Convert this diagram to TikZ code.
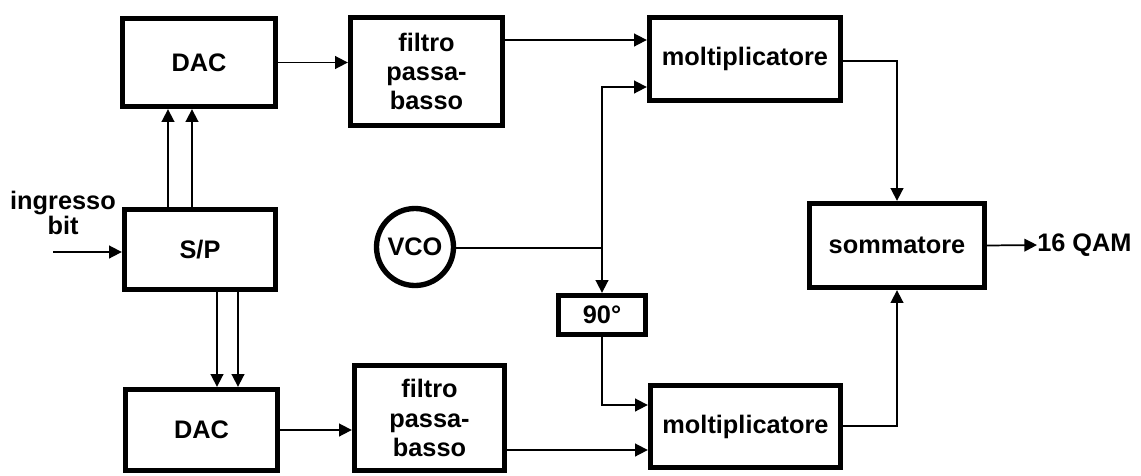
\documentclass[tikz,border=0pt]{standalone}
\usepackage{fontspec}
\setmainfont{Liberation Sans}
\usetikzlibrary{arrows.meta}

\tikzset{
  blk/.style 2 args={draw, line width=4pt, inner sep=0pt, align=center,
    minimum width=#1*0.75pt, minimum height=#2*0.75pt,
    font=\bfseries\fontsize{19}{22}\selectfont},
  lbl/.style={inner sep=0pt, align=center, font=\bfseries\fontsize{19}{17}\selectfont},
  wire/.style={line width=1.3pt},
  arr/.style={wire, -{Triangle[length=9.5pt,width=9.5pt]}},
}

\begin{document}
\begin{tikzpicture}[x=0.75pt,y=0.75pt,yscale=-1,xscale=1]
\path[use as bounding box] (0,0) rectangle (1141,475);

%Shape: Rectangle [upper branch]
\node[blk={153}{88}]  (dacA)  at (199,62.5)  {DAC};
\node[blk={152}{108}] (filtA) at (426.5,71.5) {filtro\\passa-\\basso};
\node[blk={191}{83}]  (moltA) at (745,59)     {moltiplicatore};
%Shape: Rectangle [serial/parallel]
\node[blk={151}{80}]  (sp)    at (200,249.5)  {S/P};
%Shape: Circle [oscillator]
\node[blk={77}{77}, circle, minimum size=77*0.75pt] (vco) at (415,247) {VCO};
\node[blk={87}{39}]   (ph)    at (602,315)    {90°};
%Shape: Rectangle [adder]
\node[blk={175}{84}]  (somm)  at (897,245.5)  {sommatore};
%Shape: Rectangle [lower branch]
\node[blk={152}{81}]  (dacB)  at (201.5,430)  {DAC};
\node[blk={150}{105}] (filtB) at (429.5,418)  {filtro\\passa-\\basso};
\node[blk={190}{82}]  (moltB) at (745.5,426.5) {moltiplicatore};

% Text Node
\node[lbl] (inlbl) at (63,213) {ingresso\\bit};
\node[lbl, anchor=west] (out) at (1037,245) {16 QAM};
\coordinate (in) at (53,252);
\coordinate (jv) at (602,248);

%Straight Lines
\draw[arr] (in) -- (sp.west |- in);
\foreach \x in {168,192} \draw[arr] (sp.north -| \x,0) -- (dacA.south -| \x,0);
\foreach \x in {217,238} \draw[arr] (sp.south -| \x,0) -- (dacB.north -| \x,0);
\draw[arr] (dacA.east) -- (dacA.east -| filtA.west);
\draw[arr] (dacB.east |- 0,430) -- (filtB.west |- 0,430);
\draw[arr] (filtA.east |- 0,40) -- (moltA.west |- 0,40);
\draw[arr] (filtB.east |- 0,450) -- (moltB.west |- 0,450);
\draw[wire] (vco.east |- jv) -- (jv);
\draw[arr] (jv) |- (moltA.west |- 0,87);
\draw[arr] (jv) -- (ph.north);
\draw[arr] (ph.south) |- (moltB.west |- 0,405);
\draw[arr] (moltA.east |- 0,61) -| (somm.north);
\draw[arr] (moltB.east |- 0,426) -| (somm.south);
\draw[arr] (somm.east) -- (out.west);

\end{tikzpicture}
\end{document}
